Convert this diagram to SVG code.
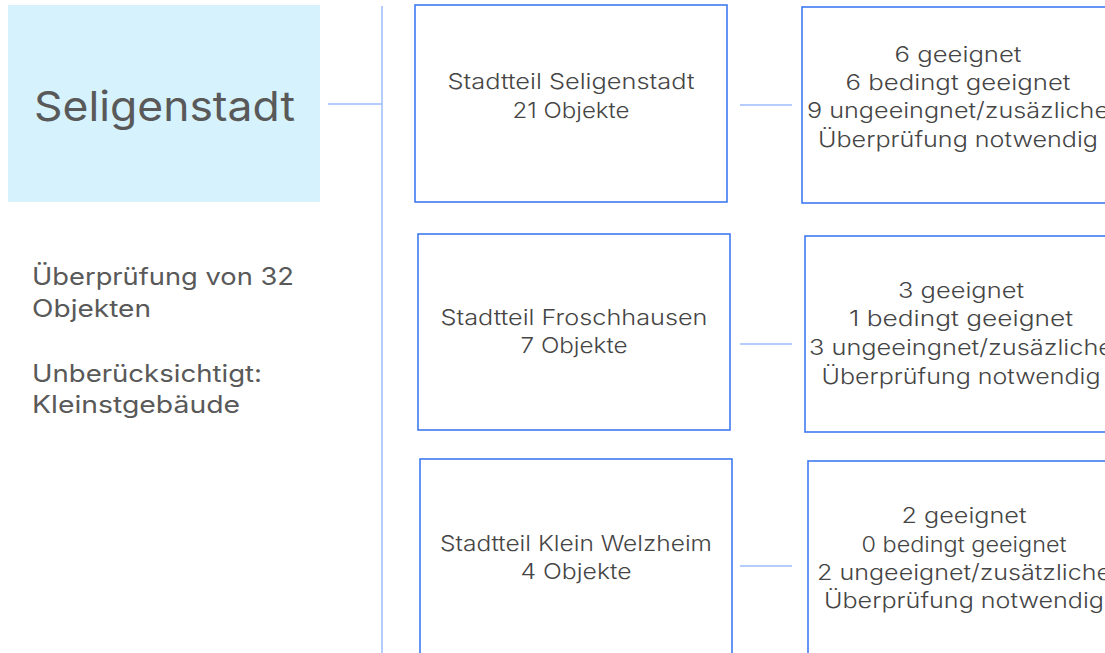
<svg xmlns="http://www.w3.org/2000/svg" width="1105" height="653" viewBox="0 0 1105 653">
<style>
.bg{fill:#ffffff}
.hl{fill:#d5f2fd}
.box{fill:#ffffff;stroke:#3f7af2;stroke-width:1.6}
.con{stroke:#9dbcfb;stroke-width:1.5;fill:none}
.title{font-family:Inter,"Open Sans","Liberation Sans",sans-serif;font-size:41px;fill:#595959;font-weight:400}
.side{font-family:Inter,"Open Sans","Liberation Sans",sans-serif;font-size:24px;fill:#595959;font-weight:400}
.t{font-family:Inter,"Open Sans","Liberation Sans",sans-serif;font-size:22px;fill:#454545;font-weight:300;text-anchor:middle}
</style>
<rect class="bg" x="0" y="0" width="1105" height="653"/>
<g id="connectors">
<line class="con" x1="328" y1="104" x2="382" y2="104"/>
<line class="con" x1="382" y1="6" x2="382" y2="653"/>
<line class="con" x1="740" y1="105" x2="792" y2="105"/>
<line class="con" x1="740" y1="344" x2="792" y2="344"/>
<line class="con" x1="740" y1="566" x2="792" y2="566"/>
</g>
<g id="root">
<rect class="hl" x="8" y="5" width="312" height="197"/>
<text class="title" x="34" y="121" textLength="261" lengthAdjust="spacingAndGlyphs">Seligenstadt</text>
</g>
<g id="summary">
<text class="side" x="32" y="285" textLength="262" lengthAdjust="spacingAndGlyphs">Überprüfung von 32</text>
<text class="side" x="32" y="317" textLength="119" lengthAdjust="spacingAndGlyphs">Objekten</text>
<text class="side" x="32" y="382" textLength="230" lengthAdjust="spacingAndGlyphs">Unberücksichtigt:</text>
<text class="side" x="32" y="413" textLength="208" lengthAdjust="spacingAndGlyphs">Kleinstgebäude</text>
</g>
<g id="stadtteil-seligenstadt">
<rect class="box" x="415" y="5" width="312" height="197"/>
<text class="t" x="571" y="89" textLength="247" lengthAdjust="spacingAndGlyphs">Stadtteil Seligenstadt</text>
<text class="t" x="571" y="118" textLength="117" lengthAdjust="spacingAndGlyphs">21 Objekte</text>
</g>
<g id="ergebnis-seligenstadt">
<rect class="box" x="802" y="7" width="312" height="196"/>
<text class="t" x="958" y="62" textLength="127" lengthAdjust="spacingAndGlyphs">6 geeignet</text>
<text class="t" x="958" y="90" textLength="225" lengthAdjust="spacingAndGlyphs">6 bedingt geeignet</text>
<text class="t" x="958" y="118" textLength="302" lengthAdjust="spacingAndGlyphs">9 ungeeingnet/zusäzliche</text>
<text class="t" x="958" y="147" textLength="280" lengthAdjust="spacingAndGlyphs">Überprüfung notwendig</text>
</g>
<g id="stadtteil-froschhausen">
<rect class="box" x="418" y="234" width="312" height="196"/>
<text class="t" x="574" y="325" textLength="267" lengthAdjust="spacingAndGlyphs">Stadtteil Froschhausen</text>
<text class="t" x="574" y="353" textLength="107" lengthAdjust="spacingAndGlyphs">7 Objekte</text>
</g>
<g id="ergebnis-froschhausen">
<rect class="box" x="805" y="236" width="312" height="196"/>
<text class="t" x="961" y="298" textLength="126" lengthAdjust="spacingAndGlyphs">3 geeignet</text>
<text class="t" x="961" y="326" textLength="224" lengthAdjust="spacingAndGlyphs">1 bedingt geeignet</text>
<text class="t" x="961" y="355" textLength="304" lengthAdjust="spacingAndGlyphs">3 ungeeingnet/zusäzliche</text>
<text class="t" x="961" y="384" textLength="279" lengthAdjust="spacingAndGlyphs">Überprüfung notwendig</text>
</g>
<g id="stadtteil-klein-welzheim">
<rect class="box" x="420" y="459" width="312" height="200"/>
<text class="t" x="576" y="551" textLength="272" lengthAdjust="spacingAndGlyphs">Stadtteil Klein Welzheim</text>
<text class="t" x="576" y="579" textLength="111" lengthAdjust="spacingAndGlyphs">4 Objekte</text>
</g>
<g id="ergebnis-klein-welzheim">
<rect class="box" x="808" y="461" width="312" height="200"/>
<text class="t" x="964" y="523" textLength="125" lengthAdjust="spacingAndGlyphs">2 geeignet</text>
<text class="t" x="964" y="552" textLength="205" lengthAdjust="spacingAndGlyphs">0 bedingt geeignet</text>
<text class="t" x="964" y="580" textLength="294" lengthAdjust="spacingAndGlyphs">2 ungeeignet/zusätzliche</text>
<text class="t" x="964" y="608" textLength="280" lengthAdjust="spacingAndGlyphs">Überprüfung notwendig</text>
</g>
</svg>
